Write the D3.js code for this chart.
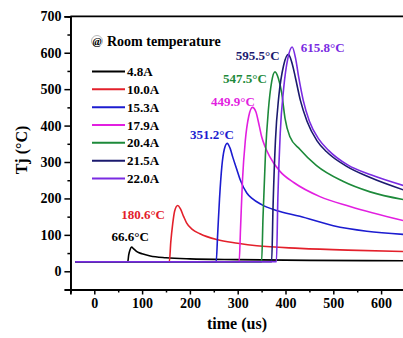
<!DOCTYPE html>
<html>
<head>
<meta charset="utf-8">
<script src="https://cdn.jsdelivr.net/npm/d3@7"></script>
<style>
body{margin:0;background:#fff;}
text{font-family:"Liberation Serif","Times New Roman",serif;font-weight:bold;}
</style>
</head>
<body>
<div class="graph"></div>
<script>
// series names + colours
var names = ["4.8A","10.0A","15.3A","17.9A","20.4A","21.5A","22.0A"];
var colors = ["#000000","#e3202b","#1c1cd0","#e21fe0","#1d8a3a","#1b1a6e","#7a2be2"];

// time (us) and Tj (C), one pair of arrays per current
var t48 = [-40,70,72,75,78,82,89,100,117,150,200,300,450,650];
var y48 = [26,26,45,60,66.6,62,54,48,42,37,34,32,30,29];
var t100 = [-40,157,160,164,168,174.5,180,187,193,205,221,256,300,340,430,530,650];
var y100 = [26,26,80,130,165,180.6,172,150,133,115,103,87,77,70,63,58,54];
var t153 = [-40,255,258,262,267,272,278,284,290,298,305,319,330,350,381,430,500,570,650];
var y153 = [26,26,100,200,290,335,351.2,338,312,280,252,215,200,183,167,151,125,110,101];
var t179 = [-40,303,306,310,316,323,331,338,345,350,358,367,388,418,472,535,650];
var y179 = [26,26,120,250,360,425,449.9,438,400,370,340,315,275,243,205,178,138];
var t204 = [-40,350,353,358,364,371,378,385,392,399,409,430,465,520,577,650];
var y204 = [26,26,150,320,440,520,547.5,530,490,420,370,335,290,247,218,196];
var t215 = [-40,371,374,379,386,396,406,414,421,431,445,466,486,528,576,650];
var y215 = [26,26,180,360,480,565,595.5,570,530,470,412,358,328,288,258,222];
var t220 = [-40,381,384,389,396,405,414,421,428,437,450,470,490,530,580,650];
var y220 = [26,26,200,380,500,585,615.8,585,530,470,412,362,332,292,264,234];

var times = [t48,t100,t153,t179,t204,t215,t220];
var temps = [y48,y100,y153,y179,y204,y215,y220];

// peak labels, anchored in data units (time, Tj)
var peakText = ["66.6°C","180.6°C","351.2°C","449.9°C","547.5°C","595.5°C","615.8°C"];
var peakLabT = [75,102,246,290,315,342,478];
var peakLabV = [83,143,362,454,518,579,601];

var xTicks = [0,100,200,300,400,500,600];
var yTicks = [0,100,200,300,400,500,600,700];

var W = 403, H = 338;
var svg = d3.select(".graph").append("svg")
	.attr("width", W).attr("height", H);

var x = d3.scaleLinear().domain([-50,650]).range([70.4,405]);
var y = d3.scaleLinear().domain([-50,700]).range([289.5,16.3]);

svg.append("clipPath").attr("id","plotclip")
	.append("rect")
	.attr("x", x(-50)).attr("y", y(700))
	.attr("width", x(650)-x(-50)).attr("height", y(-50)-y(700));

// curves
var line = d3.line().curve(d3.curveMonotoneX);
var plot = svg.append("g").attr("clip-path","url(#plotclip)");
for(var i = 0; i < names.length; i++){
	var pts = times[i].map(function(t, j){ return [x(t), y(temps[i][j])]; });
	plot.append("path")
		.attr("d", line(pts))
		.attr("fill","none")
		.attr("stroke", colors[i])
		.attr("stroke-width", 1.6);
}

// axes
var xAxis = d3.axisBottom(x).tickValues(xTicks).tickSize(5).tickPadding(4).tickFormat(d3.format("d"));
var xMinor = d3.axisBottom(x).tickValues([-50,50,150,250,350,450,550,650]).tickSize(3).tickFormat("");
var yAxis = d3.axisLeft(y).tickValues(yTicks).tickSize(6).tickPadding(3).tickFormat(d3.format("d"));
var yMinor = d3.axisLeft(y).tickValues([-50,50,150,250,350,450,550,650]).tickSize(3).tickFormat("");

function styleAxis(g){
	g.select(".domain").attr("stroke","#000").attr("stroke-width",1.8);
	g.selectAll(".tick line").attr("stroke","#000").attr("stroke-width",1.5);
	g.selectAll("text").attr("font-size","14px").attr("fill","#000")
		.style("font-family","Liberation Serif").style("font-weight","bold");
}
svg.append("g").attr("transform","translate(0,"+y(-50)+")").call(xMinor).call(styleAxis);
svg.append("g").attr("transform","translate(0,"+y(-50)+")").call(xAxis).call(styleAxis);
svg.append("g").attr("transform","translate("+x(-50)+",0)").call(yMinor).call(styleAxis);
svg.append("g").attr("transform","translate("+x(-50)+",0)").call(yAxis).call(styleAxis);

// top frame
svg.append("line")
	.attr("x1", x(-50)).attr("x2", W)
	.attr("y1", y(700)).attr("y2", y(700))
	.attr("stroke","#000").attr("stroke-width",1.8);

// axis titles
svg.append("text")
	.attr("x", 237).attr("y", 329)
	.attr("text-anchor","middle")
	.attr("font-size","16px")
	.text("time (us)");
svg.append("text")
	.attr("transform","translate(27,150) rotate(-90)")
	.attr("text-anchor","middle")
	.attr("font-size","16px")
	.text("Tj (°C)");

// legend
svg.append("circle").attr("cx",97).attr("cy",41).attr("r",5.5)
	.attr("fill","none").attr("stroke","#888").attr("stroke-width",0.6);
svg.append("text").attr("x",97).attr("y",45).attr("text-anchor","middle")
	.attr("font-size","11px").attr("font-style","italic").text("@");
svg.append("text").attr("x",107).attr("y",45.5).attr("font-size","14px").text("Room temperature");

var legY = d3.scalePoint().domain(names).range([71.5,178.5]);
names.forEach(function(n, i){
	svg.append("line")
		.attr("x1",92).attr("x2",125)
		.attr("y1",legY(n)).attr("y2",legY(n))
		.attr("stroke",colors[i]).attr("stroke-width",2);
	svg.append("text")
		.attr("x",127).attr("y",legY(n)+4.5)
		.attr("font-size","13px")
		.text(n);
});

// peak labels
peakText.forEach(function(s, i){
	svg.append("text")
		.attr("x", x(peakLabT[i])).attr("y", y(peakLabV[i]))
		.attr("text-anchor","middle")
		.attr("font-size","13px")
		.attr("fill", colors[i])
		.text(s);
});
</script>
</body>
</html>
